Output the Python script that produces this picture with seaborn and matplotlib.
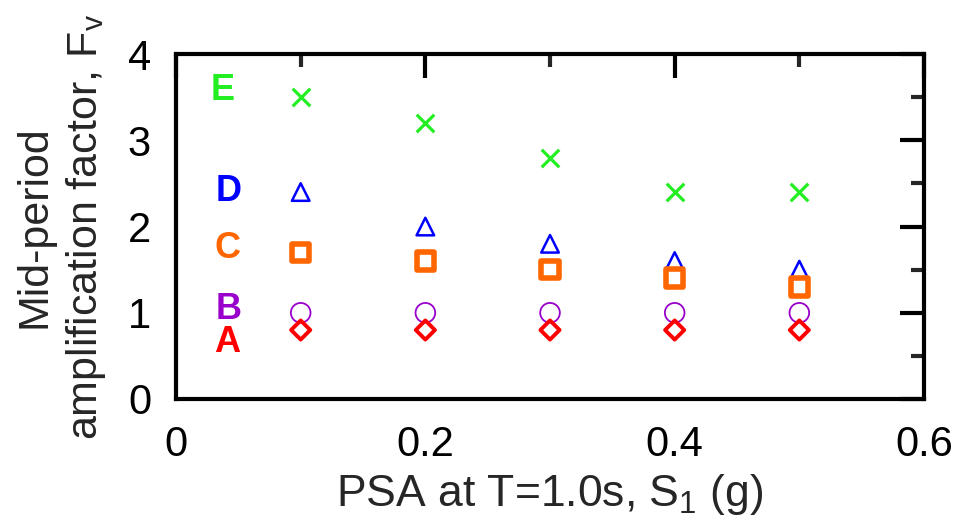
import matplotlib
matplotlib.use("Agg")
import matplotlib.pyplot as plt
import seaborn as sns
import numpy as np

sns.set_theme(style="white")
plt.rcParams['font.family'] = ['Liberation Sans', 'DejaVu Sans']
plt.rcParams['mathtext.fontset'] = 'custom'
plt.rcParams['mathtext.rm'] = 'Liberation Sans'
plt.rcParams['mathtext.it'] = 'Liberation Sans'

psa = [0.1, 0.2, 0.3, 0.4, 0.5]
site_E = [3.5, 3.2, 2.8, 2.4, 2.4]
site_D = [2.4, 2.0, 1.8, 1.6, 1.5]
site_C = [1.7, 1.6, 1.5, 1.4, 1.3]
site_B = [1.0, 1.0, 1.0, 1.0, 1.0]
site_A = [0.8, 0.8, 0.8, 0.8, 0.8]
labels = ["E", "D", "C", "B", "A"]
label_x = [0.037, 0.042, 0.041, 0.0425, 0.041]
label_y = [3.58, 2.41, 1.74, 1.04, 0.65]

colors = {"E": "#22ee22", "D": "#0000ff", "C": "#ff6600", "B": "#9900cc", "A": "#ff0000"}

fig = plt.figure(figsize=(9.63, 5.25), dpi=100)
ax = fig.add_axes([0.1828, 0.24, 0.7767, 0.657])

sns.scatterplot(x=psa, y=site_E, marker='x', s=160, color=colors["E"], linewidth=2.3, ax=ax)
sns.scatterplot(x=psa, y=site_D, marker='^', s=160, facecolor='none', edgecolor=colors["D"], linewidth=1.8, ax=ax)
sns.scatterplot(x=psa, y=site_C, marker='s', s=160, facecolor='none', edgecolor=colors["C"], linewidth=4.0, ax=ax)
sns.scatterplot(x=psa, y=site_B, marker='o', s=200, facecolor='none', edgecolor=colors["B"], linewidth=1.3, ax=ax)
sns.scatterplot(x=psa, y=site_A, marker='D', s=95, facecolor='none', edgecolor=colors["A"], linewidth=2.8, ax=ax)

for lab, lx, ly in zip(labels, label_x, label_y):
    ax.text(lx, ly, lab, color=colors[lab], fontsize=26, fontweight='bold',
            ha='center', va='center')

ax.set_xlim(0, 0.6)
ax.set_ylim(0, 4)
ax.set_xticks([0, 0.2, 0.4, 0.6])
ax.set_xticklabels(["0", "0.2", "0.4", "0.6"])
ax.set_xticks([0.1, 0.3, 0.5], minor=True)
ax.set_yticks([0, 1, 2, 3, 4])
ax.set_yticklabels(["0", "1", "2", "3", "4"])
ax.set_yticks([0.5, 1.5, 2.5, 3.5], minor=True)

for sp in ax.spines.values():
    sp.set_linewidth(3)
    sp.set_color('black')

ax.tick_params(which='major', direction='in', length=17, width=3, top=True, right=True,
               labelsize=30, colors='black')
ax.tick_params(which='minor', direction='in', length=9.5, width=3, top=True, right=True)
ax.tick_params(axis='x', which='major', pad=19)
ax.tick_params(axis='y', which='major', pad=18)

ax.set_xlabel("PSA at T=1.0s, S$_1$ (g)", fontsize=32, labelpad=5)
ax.set_ylabel("Mid-period\namplification factor, F$_v$", fontsize=31, labelpad=14,
              linespacing=1.3)

fig.savefig("out.png", dpi=100)
